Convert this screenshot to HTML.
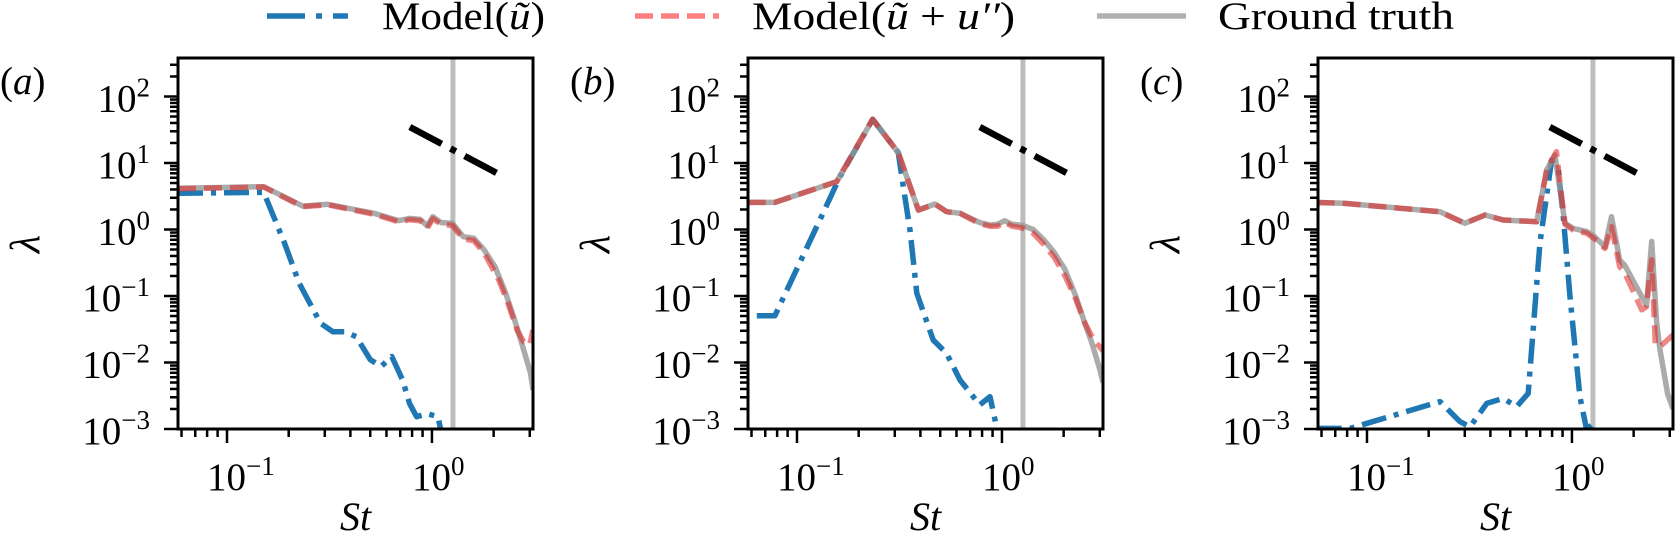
<!DOCTYPE html>
<html>
<head>
<meta charset="utf-8">
<style>
html,body{margin:0;padding:0;background:#fff;}
svg{display:block;}
text{font-family:"Liberation Serif",serif;fill:#000;}
</style>
</head>
<body>
<svg id="chart" width="1675" height="542" viewBox="0 0 1675 542" xmlns="http://www.w3.org/2000/svg">
  <g id="legend">
    <g>
      <line x1="267" y1="16" x2="348" y2="16" stroke="#1f77b4" stroke-width="5.5" stroke-dasharray="38 11 6 11"/>
      <text x="382" y="29" font-size="39" textLength="163" lengthAdjust="spacingAndGlyphs">Model(<tspan font-style="italic">ũ</tspan>)</text>
    </g>
    <g>
      <line x1="635" y1="16" x2="719" y2="16" stroke="#ff8080" stroke-width="5.5" stroke-dasharray="18 8"/>
      <text x="752" y="29" font-size="39" textLength="263" lengthAdjust="spacingAndGlyphs">Model(<tspan font-style="italic">ũ</tspan> + <tspan font-style="italic">u′′</tspan>)</text>
    </g>
    <g>
      <line x1="1097" y1="16" x2="1186" y2="16" stroke="#b0b0b0" stroke-width="5.5"/>
      <text x="1218" y="29" font-size="39" textLength="236" lengthAdjust="spacingAndGlyphs">Ground truth</text>
    </g>
  </g>
</svg>
<script>
// ---- data (St, lambda) ----
const panelLetters = ["a", "b", "c"];
const refLineSt = [0.78, 2.2];
const refLineLam = [34.8, 6.4];
const cutoffSt = 1.266;
const yTickExps = [-3, -2, -1, 0, 1, 2];
const xTickExps = [-1, 0];

const truthA_St = [0.0577,0.151,0.234,0.31,0.521,0.689,0.777,0.877,0.949,1.01,1.11,1.26,1.42,1.6,1.8,2.03,2.29,2.53,2.74,3.03,3.11];
const truthA_L  = [4.16,4.4,2.25,2.39,1.75,1.36,1.47,1.42,1.13,1.56,1.27,1.24,0.78,0.74,0.49,0.276,0.11,0.0436,0.0195,0.00687,0.00386];
const modelA_St = [0.0577,0.151,0.234,0.31,0.521,0.689,0.777,0.877,0.949,1.01,1.11,1.26,1.42,1.6,1.8,2.12,2.35,2.6,2.8,3.0,3.11];
const modelA_L  = [4.1,4.35,2.2,2.35,1.7,1.3,1.4,1.35,1.05,1.45,1.2,1.15,0.72,0.68,0.44,0.174,0.078,0.031,0.0205,0.0183,0.031];
const blueA_St  = [0.0577,0.151,0.191,0.225,0.286,0.329,0.378,0.427,0.5,0.565,0.637,0.718,0.777,0.842,0.949,1.07,1.14];
const blueA_L   = [3.5,3.62,0.62,0.155,0.039,0.029,0.029,0.0244,0.011,0.0087,0.0123,0.0055,0.00243,0.00153,0.0017,0.00153,0.0006];

const truthB_St = [0.0575,0.078,0.156,0.234,0.312,0.391,0.471,0.537,0.624,0.78,0.874,0.95,1.03,1.12,1.26,1.42,1.6,1.8,2.03,2.29,2.53,2.74,3.0,3.11];
const truthB_L  = [2.56,2.56,5.24,45.4,14.3,1.96,2.42,1.85,1.75,1.27,1.17,1.2,1.35,1.2,1.15,1.0,0.7,0.45,0.25,0.1,0.04,0.02,0.008,0.005];
const modelB_St = [0.0575,0.078,0.156,0.234,0.312,0.391,0.471,0.537,0.624,0.78,0.874,0.95,1.03,1.12,1.26,1.42,1.6,1.8,2.03,2.29,2.53,2.8,3.11];
const modelB_L  = [2.56,2.56,5.24,45.4,14.3,1.96,2.42,1.85,1.75,1.22,1.12,1.12,1.28,1.12,1.05,0.88,0.6,0.38,0.2,0.09,0.04,0.022,0.015];
const blueB_St  = [0.0637,0.078,0.135,0.162,0.234,0.312,0.33,0.356,0.384,0.462,0.537,0.624,0.78,0.874,0.97];
const blueB_L   = [0.0506,0.0506,1.85,6.2,45.4,14.3,4.4,0.98,0.11,0.0218,0.0137,0.00546,0.0023,0.00306,0.0007];

const truthC_St = [0.0568,0.0766,0.227,0.30,0.377,0.462,0.673,0.753,0.826,0.925,1.015,1.18,1.29,1.45,1.56,1.71,1.81,2.19,2.31,2.45,2.59,2.69,2.93,3.11];
const truthC_L  = [2.56,2.48,1.85,1.24,1.65,1.39,1.31,7.85,13.2,1.24,1.04,0.93,0.78,0.55,1.56,0.348,0.29,0.098,0.073,0.66,0.039,0.0155,0.0034,0.002];
const modelC_St = [0.0568,0.0766,0.227,0.30,0.377,0.462,0.673,0.753,0.84,0.925,1.015,1.18,1.29,1.45,1.56,1.71,1.81,2.19,2.31,2.45,2.55,2.69,3.11];
const modelC_L  = [2.56,2.48,1.85,1.24,1.65,1.39,1.31,7.85,14.8,1.2,0.98,0.88,0.72,0.52,1.1,0.276,0.22,0.062,0.069,0.35,0.019,0.0173,0.026];
const blueC_St  = [0.0568,0.0826,0.227,0.284,0.318,0.384,0.462,0.537,0.612,0.698,0.796,0.857,0.907,0.978,1.094,1.18,1.27,1.3];
const blueC_L   = [0.00102,0.00102,0.00258,0.00129,0.00108,0.00243,0.00289,0.00217,0.00343,0.62,11.1,7.85,1.56,0.098,0.00306,0.00097,0.00122,0.0006];

const truthSeries = [[truthA_St,truthA_L],[truthB_St,truthB_L],[truthC_St,truthC_L]];
const modelSeries = [[modelA_St,modelA_L],[modelB_St,modelB_L],[modelC_St,modelC_L]];
const blueSeries  = [[blueA_St,blueA_L],[blueB_St,blueB_L],[blueC_St,blueC_L]];

// ---- layout ----
const NS = "http://www.w3.org/2000/svg";
const svg = document.getElementById("chart");
const panelLeft0 = 178, panelStep = 570, panelW = 355, panelTop = 58, panelBottom = 429;
const xLogMin = -1.239, xLogMax = 0.493, yLogMin = -3, yLogMax = 2.579;

function mk(tag, attrs, parent) {
  const e = document.createElementNS(NS, tag);
  for (const k in attrs) e.setAttribute(k, attrs[k]);
  (parent || svg).appendChild(e);
  return e;
}

panelLetters.forEach((letter, i) => {
  const L = panelLeft0 + i * panelStep;
  const sx = v => L + (Math.log10(v) - xLogMin) / (xLogMax - xLogMin) * panelW;
  const sy = v => panelBottom - (Math.log10(v) - yLogMin) / (yLogMax - yLogMin) * (panelBottom - panelTop);

  const g = mk("g", {});
  
  

  const cp = mk("clipPath", {id: "clip" + i}, g);
  mk("rect", {x: L, y: panelTop, width: panelW, height: panelBottom - panelTop}, cp);

  const plot = mk("g", {"clip-path": "url(#clip" + i + ")"}, g);
  
  

  const vl = mk("line", {x1: sx(cutoffSt), x2: sx(cutoffSt), y1: panelTop, y2: panelBottom, stroke: "#bdbdbd", "stroke-width": 5}, plot);
  
  

  const pts = (xs, ys) => xs.map((x, k) => sx(x).toFixed(1) + "," + sy(ys[k]).toFixed(1)).join(" ");

  const blue = mk("polyline", {points: pts(blueSeries[i][0], blueSeries[i][1]), fill: "none", stroke: "#1f77b4", "stroke-width": 5.5, "stroke-dasharray": "25 8 5 8", "stroke-linejoin": "round"}, plot);
  
  

  const truth = mk("polyline", {points: pts(truthSeries[i][0], truthSeries[i][1]), fill: "none", stroke: "rgb(150,150,150)", "stroke-opacity": 0.8, "stroke-width": 5.5, "stroke-linejoin": "round"}, plot);
  
  

  const model = mk("polyline", {points: pts(modelSeries[i][0], modelSeries[i][1]), fill: "none", stroke: "rgb(225,35,35)", "stroke-opacity": 0.55, "stroke-width": 5.5, "stroke-dasharray": "18 8", "stroke-linejoin": "round"}, plot);
  
  

  const ref = mk("line", {x1: sx(refLineSt[0]), y1: sy(refLineLam[0]), x2: sx(refLineSt[1]), y2: sy(refLineLam[1]), stroke: "#000", "stroke-width": 6.5, "stroke-dasharray": "36 10 6 10"}, plot);
  
  

  const ticks = mk("g", {stroke: "#000", "stroke-width": 2.5}, g);
  
  
  for (let e = -2; e <= 0; e++) {
    for (let m = 1; m <= 9; m++) {
      const v = m * Math.pow(10, e);
      const lv = Math.log10(v);
      if (lv < xLogMin - 1e-6 || lv > xLogMax + 1e-6) continue;
      const x = sx(v);
      mk("line", {x1: x, x2: x, y1: panelBottom, y2: panelBottom + (m === 1 ? 14 : 8)}, ticks);
    }
  }
  for (let e = -3; e <= 2; e++) {
    for (let m = 1; m <= 9; m++) {
      const v = m * Math.pow(10, e);
      const lv = Math.log10(v);
      if (lv > yLogMax) continue;
      const y = sy(v);
      mk("line", {x1: L, x2: L - (m === 1 ? 14 : 8), y1: y, y2: y}, ticks);
    }
  }
  const fr = mk("rect", {x: L, y: panelTop, width: panelW, height: panelBottom - panelTop, fill: "none", stroke: "#000", "stroke-width": 3}, g);
  
  

  yTickExps.forEach(e => {
    const t = mk("text", {x: L - 28, y: sy(Math.pow(10, e)) + 15, "font-size": 39, "text-anchor": "end"}, g);
    
    
    t.textContent = "10";
    const s = mk("tspan", {dy: -15, "font-size": 27}, t);
    s.textContent = e < 0 ? "\u2212" + (-e) : String(e);
  });
  xTickExps.forEach(e => {
    const t = mk("text", {x: sx(Math.pow(10, e)) - 20, y: 490, "font-size": 39}, g);
    
    
    t.textContent = "10";
    const s = mk("tspan", {dy: -15, "font-size": 27}, t);
    s.textContent = e < 0 ? "\u2212" + (-e) : String(e);
  });
  const xt = mk("text", {x: L + panelW / 2, y: 530, "font-size": 40, "font-style": "italic", "text-anchor": "middle"}, g);
  
  
  xt.textContent = "St";
  const yg = mk("g", {transform: "translate(" + (L - 152) + ",244) rotate(-90)"}, g);
  const yt = mk("text", {x: 0, y: 13, "font-size": 42, "font-style": "italic", "text-anchor": "middle"}, yg);
  
  
  yt.textContent = "λ";
  const pl = mk("text", {x: L - 178, y: 94, "font-size": 39}, g);
  
  
  pl.textContent = "(";
  const it = mk("tspan", {"font-style": "italic"}, pl);
  it.textContent = letter;
  const cl = mk("tspan", {}, pl);
  cl.textContent = ")";
});
</script>
</body>
</html>
